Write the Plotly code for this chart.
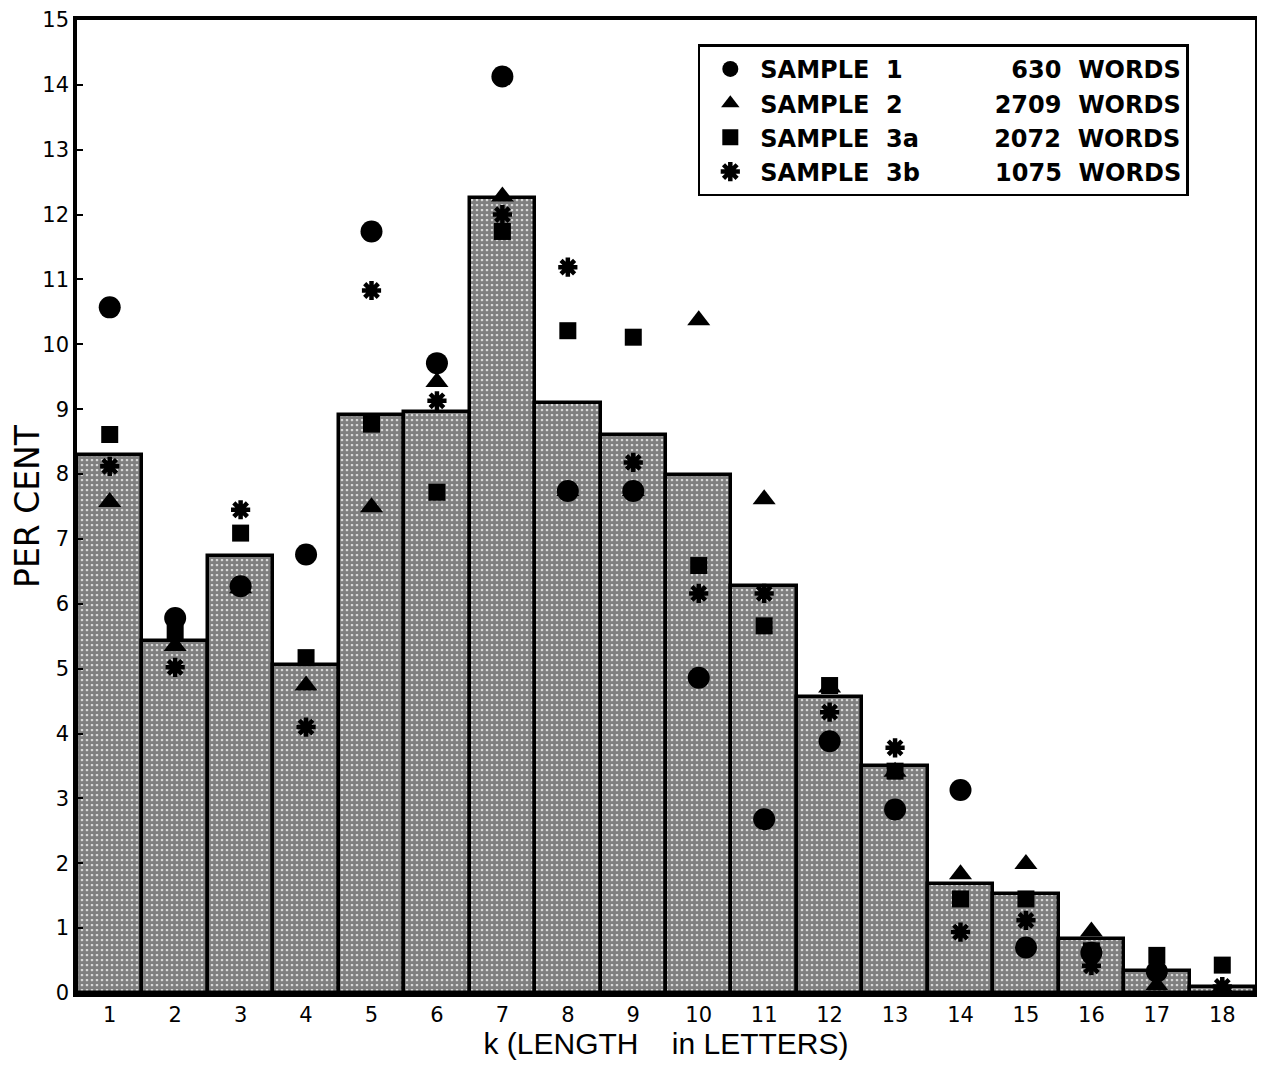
import plotly.graph_objects as go

# ---- data ----
k_values = list(range(1, 19))
tick_labels = [str(k) for k in k_values]
bar_percent = [8.30, 5.43, 6.73, 5.05, 8.91, 8.96, 12.26, 9.10, 8.61, 7.98,
               6.28, 4.57, 3.50, 1.68, 1.53, 0.84, 0.34, 0.09]
sample1 = [10.57, 5.78, 6.27, 6.76, 11.74, 9.71, 14.13, 7.74, 7.74, 4.86,
           2.68, 3.88, 2.83, 3.13, 0.70, 0.62, 0.33, None]
sample2 = [7.57, 5.35, 6.24, 4.74, 7.49, 9.42, 12.28, 7.74, 7.74, 10.37,
           7.61, 4.71, 3.41, 1.83, 1.99, 0.95, 0.12, 0.08]
sample3a = [8.61, 5.55, 7.09, 5.17, 8.77, 7.72, 11.74, 10.21, 10.11, 6.59,
            5.66, 4.74, 3.42, 1.45, 1.45, 0.65, 0.58, 0.43]
sample3b = [8.12, 5.02, 7.45, 4.10, 10.83, 9.13, 12.00, 11.19, 8.18, 6.16,
            6.16, 4.33, 3.78, 0.94, 1.12, 0.42, 0.35, 0.10]
y_ticks = list(range(0, 16))
sample_ids = ["1", "2", "3a", "3b"]
word_counts = ["630", "2709", "2072", "1075"]

FS = "\u2007"  # figure space (digit width) for column alignment
GAP = " " * 9


def legend_label(sid, count):
    sid_txt = sid + (FS if len(sid) == 1 else "")
    cnt_txt = FS * (4 - len(count)) + count
    return f"SAMPLE  {sid_txt}{GAP}{cnt_txt}  WORDS"


legend_names = [legend_label(s, c) for s, c in zip(sample_ids, word_counts)]

fig = go.Figure()

fig.add_trace(go.Bar(
    x=k_values, y=bar_percent, width=1.0, showlegend=False,
    marker=dict(
        color="white",
        line=dict(color="black", width=3.5),
        pattern=dict(shape=".", fgcolor="black", bgcolor="white",
                     size=5, solidity=0.8, fillmode="overlay"),
    ),
))

series = [
    (sample1, legend_names[0], dict(symbol="circle", size=22, color="black")),
    (sample2, legend_names[1], dict(symbol="triangle-up", size=20, color="black")),
    (sample3a, legend_names[2], dict(symbol="square", size=17, color="black")),
    (sample3b, legend_names[3], dict(symbol="asterisk-open", size=16, color="black",
                                     line=dict(color="black", width=4.5))),
]
for vals, name, mk in series:
    fig.add_trace(go.Scatter(x=k_values, y=vals, mode="markers", name=name,
                             marker=mk, cliponaxis=False))

tick_font = dict(family="DejaVu Sans", size=21, color="black")

# the page body adds an 8px offset, margins compensate for it
fig.update_layout(
    width=1265, height=1066,
    margin=dict(l=69, r=18, t=12, b=81, autoexpand=False),
    paper_bgcolor="white", plot_bgcolor="white",
    bargap=0,
    showlegend=True,
    legend=dict(
        x=0.527, y=0.975, xanchor="left", yanchor="top",
        bgcolor="white", bordercolor="black", borderwidth=2.5,
        font=dict(family="DejaVu Sans", size=24, color="black", weight="bold"),
        itemsizing="trace", tracegroupgap=0, itemwidth=50,
    ),
    xaxis=dict(
        range=[0.5, 18.5], tickmode="array", tickvals=k_values, ticktext=tick_labels,
        showline=True, linecolor="black", linewidth=3.5, mirror=True,
        ticks="", showgrid=False, zeroline=False, tickfont=tick_font,
        automargin=False,
        title=dict(text="k (LENGTH\u00a0\u00a0\u00a0 in LETTERS)",
                   font=dict(family="Liberation Sans", size=30, color="black"),
                   standoff=4),
    ),
    yaxis=dict(
        range=[0, 15], tickmode="array", tickvals=y_ticks,
        showline=True, linecolor="black", linewidth=3.5, mirror=True,
        ticks="inside", ticklen=6, tickwidth=2, tickcolor="black",
        showgrid=False, zeroline=False, tickfont=tick_font,
        ticklabeloverflow="allow",
        automargin=False,
        title=dict(text="PER CENT",
                   font=dict(family="DejaVu Sans", size=33, color="black"),
                   standoff=6),
    ),
)

fig.write_html("out.html")
